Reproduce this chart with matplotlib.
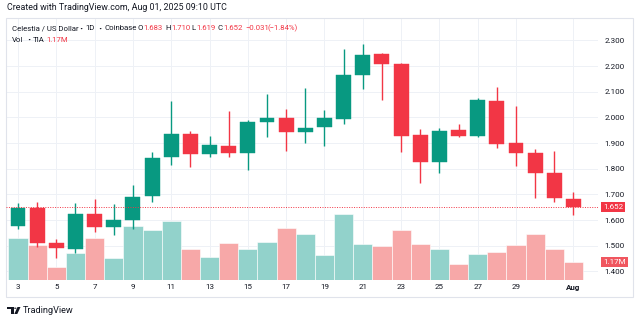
import matplotlib
matplotlib.use('Agg')
import matplotlib.pyplot as plt
import matplotlib.transforms as mtransforms
from matplotlib.patches import Rectangle, Polygon, Circle
import numpy as np

# Data: TIA daily candles, Jul 3 - Aug 1 2025 (day 32 = Aug 1)
days = list(range(3, 33))
opens = [1.576, 1.648, 1.512, 1.488, 1.622, 1.574, 1.600, 1.692, 1.844, 1.934,
         1.857, 1.888, 1.860, 1.981, 1.996, 1.944, 1.961, 1.995, 2.165, 2.246,
         2.207, 1.930, 1.827, 1.950, 1.926, 2.065, 1.899, 1.862, 1.784, 1.683]
highs = [1.666, 1.670, 1.526, 1.666, 1.682, 1.664, 1.735, 1.864, 2.064, 1.947,
         1.927, 2.024, 1.990, 2.091, 2.034, 2.113, 2.030, 2.265, 2.286, 2.249,
         2.210, 1.955, 1.958, 1.974, 2.074, 2.117, 2.043, 1.877, 1.869, 1.710]
lows = [1.565, 1.496, 1.452, 1.470, 1.554, 1.543, 1.565, 1.669, 1.814, 1.808,
        1.845, 1.844, 1.795, 1.925, 1.870, 1.899, 1.890, 1.974, 2.110, 2.068,
        1.866, 1.745, 1.782, 1.925, 1.922, 1.879, 1.810, 1.687, 1.669, 1.619]
closes = [1.648, 1.512, 1.491, 1.622, 1.574, 1.601, 1.691, 1.843, 1.934, 1.857,
          1.891, 1.860, 1.981, 1.999, 1.942, 1.960, 1.996, 2.164, 2.244, 2.207,
          1.928, 1.827, 1.947, 1.926, 2.066, 1.896, 1.862, 1.784, 1.684, 1.652]
volumes = [2.78, 2.31, 0.86, 1.76, 2.78, 1.48, 3.59, 3.28, 3.88, 2.07,
           1.50, 2.47, 2.03, 2.53, 3.44, 3.02, 1.63, 4.38, 2.40, 2.23,
           3.33, 2.36, 2.05, 1.04, 1.74, 1.85, 2.31, 3.06, 2.03, 1.17]  # millions

price_ticks = [1.4, 1.5, 1.6, 1.7, 1.8, 1.9, 2.0, 2.1, 2.2, 2.3]
date_ticks = [3, 5, 7, 9, 11, 13, 15, 17, 19, 21, 23, 25, 27, 29, 32]
date_labels = ['3', '5', '7', '9', '11', '13', '15', '17', '19', '21', '23', '25', '27', '29', 'Aug']

UP, DOWN = '#089981', '#f23645'
UP_VOL, DOWN_VOL = '#92d2cb', '#f7a8a8'
TXT = '#131722'

plt.rcParams['font.family'] = ['Roboto', 'DejaVu Sans']

W, H = 640, 321
fig = plt.figure(figsize=(W / 100, H / 100), dpi=100)
fig.patch.set_facecolor('white')

def fx(x):
    return x / W

def fy(y):
    return 1 - y / H

# pane border
fig.add_artist(Rectangle((fx(6), fy(297)), fx(627), (297 - 18) / H, transform=fig.transFigure,
                         fill=False, ec='#e0e3eb', lw=0.8))

rect = [fx(6), fy(280), fx(592), 262 / H]
ax = fig.add_axes(rect)
axv = ax.twinx()
axc = fig.add_axes(rect, sharex=ax, sharey=ax)
ax.set_zorder(0)
axv.set_zorder(1)
axc.set_zorder(2)
axv.patch.set_visible(False)
axc.patch.set_visible(False)

ax.set_xlim(2.3735, 33.28)
ax.set_ylim(1.3663, 2.387)
axv.set_ylim(0, 17.3)

# grid + axis labels on the bottom axes
ax.set_yticks(price_ticks)
ax.set_yticklabels(['%.3f' % p for p in price_ticks])
ax.set_xticks(date_ticks)
ax.set_xticklabels(date_labels)
ax.yaxis.tick_right()
ax.tick_params(axis='both', length=0, labelsize=5.8, labelcolor=TXT)
ax.tick_params(axis='y', pad=4.5)
ax.tick_params(axis='x', pad=3.2)
ax.get_xticklabels()[-1].set_fontweight('bold')
ax.grid(True, color='#eef1f6', lw=0.7)
for s in ax.spines.values():
    s.set_visible(False)
axv.axis('off')
axc.axis('off')

# volume
vcol = [UP_VOL if c >= o else DOWN_VOL for o, c in zip(opens, closes)]
axv.bar(days, volumes, width=1.0, color=vcol, edgecolor='white', linewidth=0.4)

# candles
ccol = [UP if c >= o else DOWN for o, c in zip(opens, closes)]
axc.vlines(days, lows, highs, colors=ccol, lw=1.0)
body = [c - o for o, c in zip(opens, closes)]
axc.bar(days, body, bottom=opens, width=0.78, color=ccol, edgecolor=ccol, linewidth=0.3)

# last price line + labels
last = closes[-1]
axc.axhline(last, color=DOWN, lw=0.7, ls=(0, (1, 1.5)))
tr = mtransforms.blended_transform_factory(ax.transAxes, ax.transData)
ax.text(1.009, last, '%.3f' % last, transform=tr, ha='left', va='center', fontsize=5.8,
        color='white', bbox=dict(boxstyle='square,pad=0.25', fc=DOWN, ec='none'), zorder=5,
        clip_on=False)
trv = mtransforms.blended_transform_factory(axv.transAxes, axv.transData)
axc.text(1.009, volumes[-1], '1.17M', transform=trv, ha='left', va='center', fontsize=5.8,
         color='white', bbox=dict(boxstyle='square,pad=0.25', fc='#f0565f', ec='none'), zorder=5,
         clip_on=False)

# header
fig.text(fx(7), fy(8), 'Created with TradingView.com, Aug 01, 2025 09:10 UTC',
         fontsize=6.4, color=TXT, va='center', ha='left')

renderer = fig.canvas.get_renderer()
LEG = 5.6

def put_run(x0, y, parts, gap=0.4):
    # lay out consecutive coloured pieces of text starting at pixel x0
    x = x0
    for s, c in parts:
        t = fig.text(fx(x), fy(y), s, fontsize=LEG, color=c, va='center', ha='left')
        x += t.get_window_extent(renderer).width + gap

def put_dot(x, y):
    fig.text(fx(x), fy(y), '·', fontsize=8, fontweight='bold', color=TXT,
             va='center', ha='center')

put_run(12.3, 28.3, [('Celestia / US Dollar', TXT)])
put_dot(80.5, 28.3)
put_run(85.5, 28.3, [('1D', TXT)])
put_dot(99.5, 28.3)
put_run(104.5, 28.3, [('Coinbase', TXT)])
put_run(137.7, 28.3, [('O', TXT), ('1.683', DOWN)])
put_run(165.7, 28.3, [('H', TXT), ('1.710', DOWN)])
put_run(191.7, 28.3, [('L', TXT), ('1.619', DOWN)])
put_run(218.0, 28.3, [('C', TXT), ('1.652', DOWN)])
put_run(245.0, 28.3, [('−0.031', DOWN)])
put_run(267.7, 28.3, [('(−1.84%)', DOWN)])
put_run(12.3, 39.5, [('Vol', TXT)])
put_dot(29.0, 39.5)
put_run(33.0, 39.5, [('TIA', TXT)])
put_run(46.7, 39.5, [('1.17M', DOWN)])

# footer logo
fig.add_artist(Polygon([(fx(7), fy(307)), (fx(13.5), fy(307)), (fx(13.5), fy(314)),
                        (fx(11), fy(314)), (fx(11), fy(309.3)), (fx(7), fy(309.3))],
                       closed=True, transform=fig.transFigure, fc=TXT, ec='none'))
fig.add_artist(Circle((fx(15.3), fy(308.2)), 1.2 / W, transform=fig.transFigure, fc=TXT, ec='none'))
fig.add_artist(Polygon([(fx(17.5), fy(307)), (fx(20.5), fy(307)), (fx(17.3), fy(314)),
                        (fx(14.3), fy(314))], closed=True, transform=fig.transFigure,
                       fc=TXT, ec='none'))
fig.text(fx(22.5), fy(310.5), 'TradingView', fontsize=6.6, color=TXT, va='center', ha='left')

fig.savefig('out.png', dpi=100, facecolor='white')
